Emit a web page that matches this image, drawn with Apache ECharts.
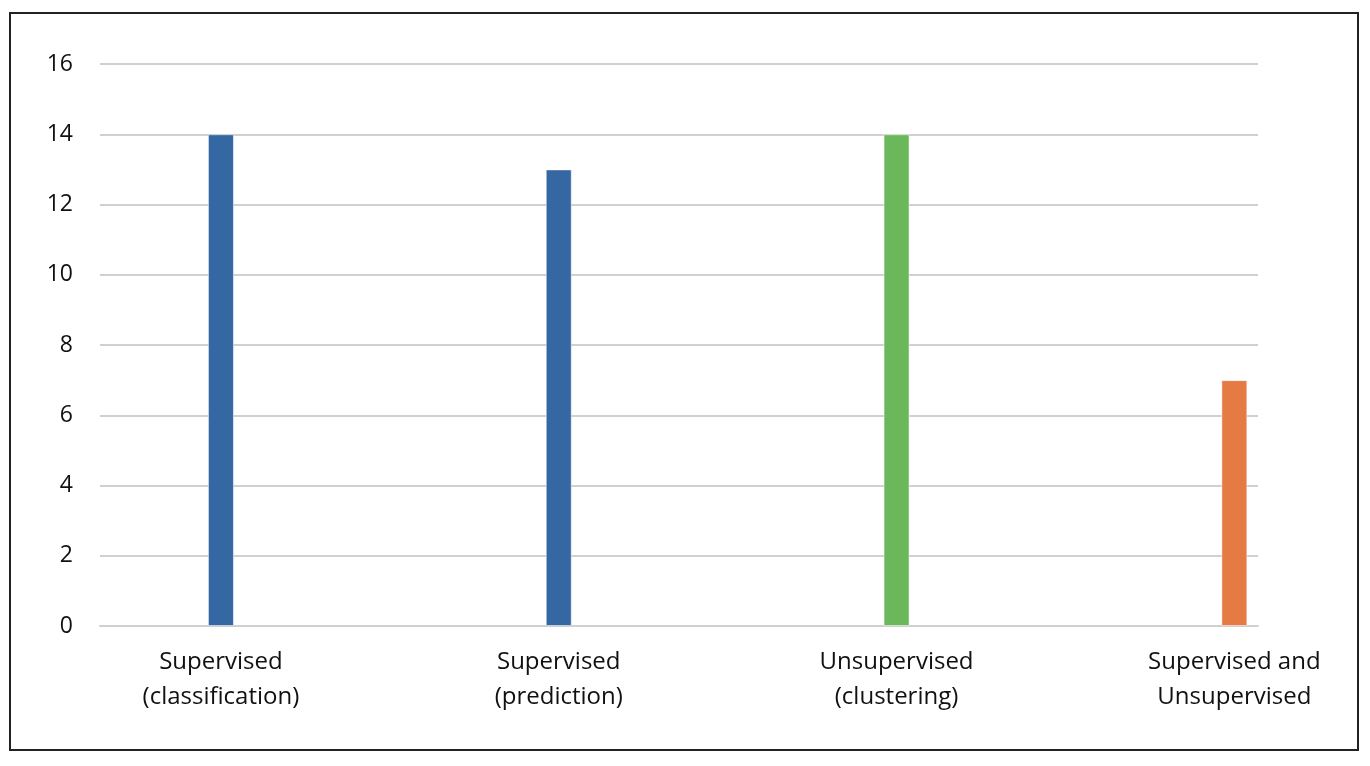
<!DOCTYPE html>
<html>
	<head>
		<meta charset="utf-8" />
		<title>Bar chart</title>
		<script src="https://cdn.jsdelivr.net/npm/echarts@6/dist/echarts.min.js"></script>
		<style type="text/css">
			body{margin:0;background:#fff;}
			#frame{position:absolute;left:9px;top:12px;width:1346px;height:735px;border:2px solid #222;}
			#main{position:absolute;left:0;top:0;width:1370px;height:766px;}
		</style>
	</head>
	<body>
		<div id="frame"></div>
		<div id="main"></div>
		<script type="text/javascript">
			// categories and counts
			var categories = ['Supervised\n(classification)', 'Supervised\n(prediction)', 'Unsupervised\n(clustering)', 'Supervised and\nUnsupervised'];
			var counts = [14, 13, 14, 7];
			var barColors = ['#3567A3', '#3567A3', '#6BB85A', '#E67A45'];
			var yTicks = [0, 2, 4, 6, 8, 10, 12, 14, 16];

			var myChart = echarts.init(document.getElementById('main'));
			var font = 'Open Sans';

			var barData = counts.map(function (v, i) {
				return { value: [i, v], itemStyle: { color: barColors[i] } };
			});

			var option = {
				animation: false,
				grid: { left: 100, right: 112, top: 64, bottom: 140, containLabel: false },
				xAxis: {
					type: 'value',
					min: -0.358,
					max: 3.07,
					axisLine: { show: true, lineStyle: { color: '#d0d0d0', width: 2 } },
					axisTick: { show: false },
					splitLine: { show: false },
					axisLabel: {
						customValues: [0, 1, 2, 3],
						formatter: function (v) { return categories[Math.round(v)]; },
						fontFamily: font,
						fontSize: 24,
						lineHeight: 35,
						color: '#111',
						margin: 19
					}
				},
				yAxis: {
					type: 'value',
					min: yTicks[0],
					max: yTicks[yTicks.length - 1],
					interval: 2,
					axisLine: { show: false },
					axisTick: { show: false },
					splitLine: { lineStyle: { color: '#d0d0d0', width: 2 } },
					axisLabel: { fontFamily: font, fontSize: 23, color: '#111', margin: 27 }
				},
				series: [{
					type: 'bar',
					barWidth: 26,
					data: barData,
					itemStyle: { borderColor: 'rgba(255,255,255,0.5)', borderWidth: 1 }
				}]
			};
			myChart.setOption(option);
		</script>
	</body>
</html>
